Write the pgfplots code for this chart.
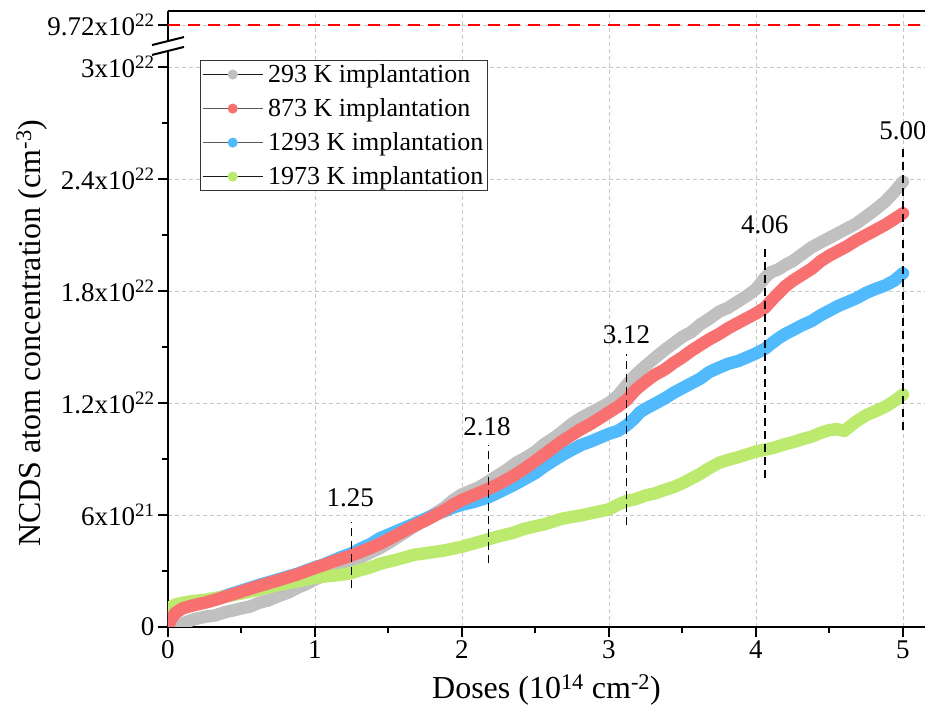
\documentclass[border=0pt]{standalone}
\usepackage{fontspec}
\setmainfont{Liberation Serif}
\usepackage{pgfplots}
\pgfplotsset{compat=1.18}

\definecolor{cgray}{RGB}{192,192,192}
\definecolor{cred}{RGB}{248,112,112}
\definecolor{cblue}{RGB}{80,186,252}
\definecolor{cgreen}{RGB}{188,234,110}

\newcommand{\tf}{\fontsize{27}{32}\selectfont}
\newcommand{\gf}{\fontsize{26}{31}\selectfont}
\newcommand{\lf}{\fontsize{32}{38}\selectfont}

\begin{document}
\begin{tikzpicture}
\begin{axis}[
  scale only axis, width=757pt, height=616pt,
  xmin=0, xmax=5.15, ymin=0, ymax=33,
  axis x line=bottom, axis y line=left,
  axis line style={-, line width=2pt},
  tick align=outside,
  major tick length=10pt, minor tick length=6pt,
  every tick/.style={black, line width=2pt},
  xtick={0,1,2,3,4,5}, xticklabels={0,1,2,3,4,5},
  minor xtick={0.5,1.5,2.5,3.5,4.5},
  ytick={0,6,12,18,24,30,32.25},
  yticklabels={0, 6x10\textsuperscript{21}, 1.2x10\textsuperscript{22}, 1.8x10\textsuperscript{22}, 2.4x10\textsuperscript{22}, 3x10\textsuperscript{22}, 9.72x10\textsuperscript{22}},
  minor ytick={3,9,15,21,27},
  ticklabel style={font=\tf},
  grid=major, major grid style={dash pattern=on 4pt off 3pt, black!22, line width=0.8pt},
  xlabel={Doses (10\textsuperscript{14} cm\textsuperscript{-2})},
  ylabel={NCDS atom concentration (cm\textsuperscript{-3})},
  xlabel style={font=\lf, at={(axis description cs:0.5,-0.102)}, anchor=center},
  ylabel style={font=\lf, at={(axis description cs:-0.18,0.477)}, anchor=center},
  legend style={at={(axis description cs:0.042,0.92)}, anchor=north west,
    font=\gf, draw=black!80, line width=1pt, fill=white, inner sep=2pt,
    row sep=10.5pt, cells={anchor=west}},
  legend cell align=left,
]
\addlegendimage{legend image code/.code={\draw[black!90, line width=0.9pt] (0pt,0pt) -- (60pt,0pt); \fill[cgray] (30pt,0pt) circle (4.5pt);}}
\addlegendentry{\hspace{3pt}293 K implantation}
\addlegendimage{legend image code/.code={\draw[black!65, line width=0.9pt] (0pt,0pt) -- (60pt,0pt); \fill[cred] (30pt,0pt) circle (4.5pt);}}
\addlegendentry{\hspace{3pt}873 K implantation}
\addlegendimage{legend image code/.code={\draw[black!65, line width=0.9pt] (0pt,0pt) -- (60pt,0pt); \fill[cblue] (30pt,0pt) circle (4.5pt);}}
\addlegendentry{\hspace{3pt}1293 K implantation}
\addlegendimage{legend image code/.code={\draw[black!90, line width=0.9pt] (0pt,0pt) -- (60pt,0pt); \fill[cgreen] (30pt,0pt) circle (4.5pt);}}
\addlegendentry{\hspace{3pt}1973 K implantation}

% 293 K
\addplot[forget plot, cgray, line width=12.5pt, line cap=round, line join=round] coordinates {
(0.03,0) (0.1,0.2) (0.18,0.42) (0.25,0.55) (0.32,0.62) (0.4,0.82) (0.45,0.9) (0.5,1.0) (0.56,1.1) (0.62,1.3) (0.68,1.42) (0.75,1.65) (0.82,1.85) (0.88,2.1) (0.94,2.3) (1,2.55) (1.06,2.75) (1.12,3.0) (1.18,3.2) (1.25,3.5) (1.31,3.72) (1.38,4.0) (1.44,4.22) (1.5,4.5) (1.56,4.8) (1.62,5.1) (1.68,5.4) (1.75,5.75) (1.81,6.05) (1.88,6.4) (1.94,6.8) (2,7.1) (2.06,7.3) (2.12,7.5) (2.18,7.8) (2.24,8.1) (2.3,8.4) (2.37,8.8) (2.44,9.1) (2.5,9.4) (2.56,9.8) (2.62,10.1) (2.68,10.45) (2.75,10.9) (2.81,11.2) (2.88,11.5) (2.94,11.75) (3,12.0) (3.06,12.4) (3.12,12.96) (3.18,13.5) (3.25,14.0) (3.31,14.4) (3.38,14.85) (3.44,15.2) (3.5,15.55) (3.56,15.8) (3.62,16.2) (3.68,16.5) (3.75,16.9) (3.81,17.1) (3.88,17.45) (3.94,17.75) (4,18.1) (4.06,18.7) (4.1,19.0) (4.15,19.15) (4.2,19.4) (4.25,19.6) (4.31,19.95) (4.38,20.35) (4.44,20.6) (4.5,20.85) (4.56,21.1) (4.62,21.35) (4.68,21.6) (4.75,22.0) (4.81,22.35) (4.88,22.8) (4.94,23.3) (5,23.86)
};
% 1293 K
\addplot[forget plot, cblue, line width=12.5pt, line cap=round, line join=round] coordinates {
(0,0.5) (0.05,0.85) (0.1,1.05) (0.18,1.25) (0.25,1.35) (0.32,1.5) (0.4,1.7) (0.5,1.95) (0.62,2.25) (0.75,2.55) (0.88,2.85) (1,3.2) (1.06,3.35) (1.12,3.55) (1.18,3.75) (1.25,3.95) (1.31,4.2) (1.38,4.45) (1.44,4.75) (1.5,4.95) (1.56,5.15) (1.62,5.35) (1.68,5.55) (1.75,5.8) (1.81,6.0) (1.88,6.2) (1.94,6.4) (2,6.55) (2.08,6.7) (2.18,6.95) (2.26,7.25) (2.35,7.6) (2.42,7.9) (2.5,8.25) (2.56,8.6) (2.62,8.9) (2.68,9.2) (2.75,9.5) (2.81,9.75) (2.88,9.95) (2.94,10.15) (3,10.35) (3.06,10.5) (3.12,10.8) (3.17,11.15) (3.21,11.5) (3.25,11.7) (3.31,11.95) (3.38,12.25) (3.44,12.55) (3.5,12.8) (3.56,13.05) (3.62,13.3) (3.68,13.65) (3.75,13.9) (3.81,14.1) (3.88,14.25) (3.94,14.45) (4,14.66) (4.06,14.9) (4.1,15.15) (4.15,15.45) (4.2,15.7) (4.25,15.9) (4.31,16.15) (4.38,16.4) (4.44,16.7) (4.5,16.95) (4.56,17.2) (4.62,17.4) (4.68,17.6) (4.75,17.9) (4.81,18.1) (4.88,18.3) (4.94,18.55) (5,18.95)
};
% 1973 K
\addplot[forget plot, cgreen, line width=12.5pt, line cap=round, line join=round] coordinates {
(0,1.0) (0.05,1.2) (0.1,1.3) (0.18,1.4) (0.25,1.45) (0.32,1.55) (0.4,1.65) (0.5,1.8) (0.62,2.0) (0.75,2.25) (0.88,2.45) (1,2.65) (1.06,2.7) (1.12,2.75) (1.18,2.8) (1.25,2.9) (1.31,3.05) (1.38,3.2) (1.44,3.38) (1.5,3.5) (1.56,3.62) (1.62,3.75) (1.68,3.88) (1.75,3.95) (1.81,4.02) (1.88,4.1) (1.94,4.2) (2,4.3) (2.09,4.5) (2.18,4.7) (2.26,4.88) (2.35,5.05) (2.42,5.25) (2.5,5.4) (2.56,5.5) (2.62,5.65) (2.68,5.8) (2.75,5.9) (2.81,5.98) (2.88,6.1) (2.94,6.2) (3,6.3) (3.06,6.55) (3.12,6.75) (3.18,6.85) (3.25,7.05) (3.31,7.15) (3.38,7.35) (3.44,7.5) (3.5,7.7) (3.56,7.95) (3.62,8.2) (3.68,8.5) (3.75,8.8) (3.81,8.95) (3.88,9.1) (3.94,9.25) (4,9.4) (4.06,9.5) (4.12,9.6) (4.18,9.75) (4.25,9.9) (4.31,10.05) (4.38,10.2) (4.44,10.4) (4.5,10.55) (4.55,10.6) (4.6,10.5) (4.64,10.75) (4.68,11.0) (4.75,11.35) (4.81,11.55) (4.88,11.8) (4.94,12.1) (5,12.45)
};
% 873 K
\addplot[forget plot, cred, line width=12.5pt, line cap=round, line join=round] coordinates {
(0,0) (0.02,0.4) (0.05,0.75) (0.1,1.0) (0.18,1.18) (0.25,1.3) (0.32,1.45) (0.4,1.65) (0.5,1.9) (0.62,2.2) (0.75,2.5) (0.88,2.82) (1,3.16) (1.06,3.32) (1.12,3.5) (1.18,3.65) (1.25,3.84) (1.31,4.02) (1.38,4.25) (1.44,4.45) (1.5,4.7) (1.56,4.95) (1.62,5.2) (1.68,5.45) (1.75,5.7) (1.81,5.95) (1.88,6.25) (1.94,6.55) (2,6.8) (2.09,7.1) (2.18,7.4) (2.26,7.7) (2.35,8.1) (2.42,8.45) (2.5,8.9) (2.56,9.25) (2.62,9.6) (2.68,9.95) (2.75,10.3) (2.81,10.6) (2.88,10.9) (2.94,11.2) (3,11.5) (3.06,11.8) (3.12,12.16) (3.18,12.7) (3.25,13.15) (3.31,13.5) (3.38,13.8) (3.44,14.15) (3.5,14.45) (3.56,14.8) (3.62,15.1) (3.68,15.4) (3.75,15.7) (3.81,16.0) (3.88,16.3) (3.94,16.55) (4,16.8) (4.06,17.1) (4.1,17.45) (4.15,17.85) (4.2,18.25) (4.25,18.55) (4.31,18.85) (4.38,19.2) (4.44,19.6) (4.5,19.9) (4.56,20.15) (4.62,20.4) (4.68,20.7) (4.75,21.0) (4.81,21.25) (4.88,21.55) (4.94,21.85) (5,22.16)
};

% reference line 9.72x10^22
\addplot[forget plot, red, line width=2pt, dash pattern=on 12pt off 8pt] coordinates {(0,32.25) (5.15,32.25)};

% dose markers
\addplot[forget plot, black, line width=1.5pt, dash pattern=on 8pt off 5pt] coordinates {(1.25,2.07) (1.25,5.64)};
\addplot[forget plot, black, line width=1.5pt, dash pattern=on 8pt off 5pt] coordinates {(2.18,3.43) (2.18,9.75)};
\addplot[forget plot, black, line width=1.5pt, dash pattern=on 8pt off 5pt] coordinates {(3.12,5.46) (3.12,14.62)};
\addplot[forget plot, black, line width=1.5pt, dash pattern=on 8pt off 5pt] coordinates {(4.06,7.98) (4.06,20.3)};
\addplot[forget plot, black, line width=1.5pt, dash pattern=on 8pt off 5pt] coordinates {(5.0,10.55) (5.0,25.77)};
\node[font=\tf] at (axis cs:1.24,6.9) {1.25};
\node[font=\tf] at (axis cs:2.17,10.73) {2.18};
\node[font=\tf] at (axis cs:3.12,15.64) {3.12};
\node[font=\tf] at (axis cs:4.06,21.54) {4.06};
\node[font=\tf] at (axis cs:5.0,26.6) {5.00};

\coordinate (bl) at (rel axis cs:0,0);
\coordinate (tl) at (rel axis cs:0,1);
\coordinate (tr) at (rel axis cs:1,1);
\coordinate (b1) at (axis cs:0,31.39);
\coordinate (b2) at (axis cs:0,30.86);
\end{axis}
\draw[line width=2pt] (tl) -- (tr);
\fill[white] ([shift={(-5pt,-1.3pt)}]b1) -- ([shift={(5pt,1.3pt)}]b1) -- ([shift={(5pt,1.3pt)}]b2) -- ([shift={(-5pt,-1.3pt)}]b2) -- cycle;
\draw[line width=2pt] ([shift={(-16pt,-4pt)}]b1) -- ([shift={(16pt,4pt)}]b1);
\draw[line width=2pt] ([shift={(-16pt,-4pt)}]b2) -- ([shift={(16pt,4pt)}]b2);
\pgfresetboundingbox
\path[use as bounding box] ([shift={(-168pt,-86pt)}]bl) rectangle ([shift={(0pt,11pt)}]tr);
\end{tikzpicture}
\end{document}
